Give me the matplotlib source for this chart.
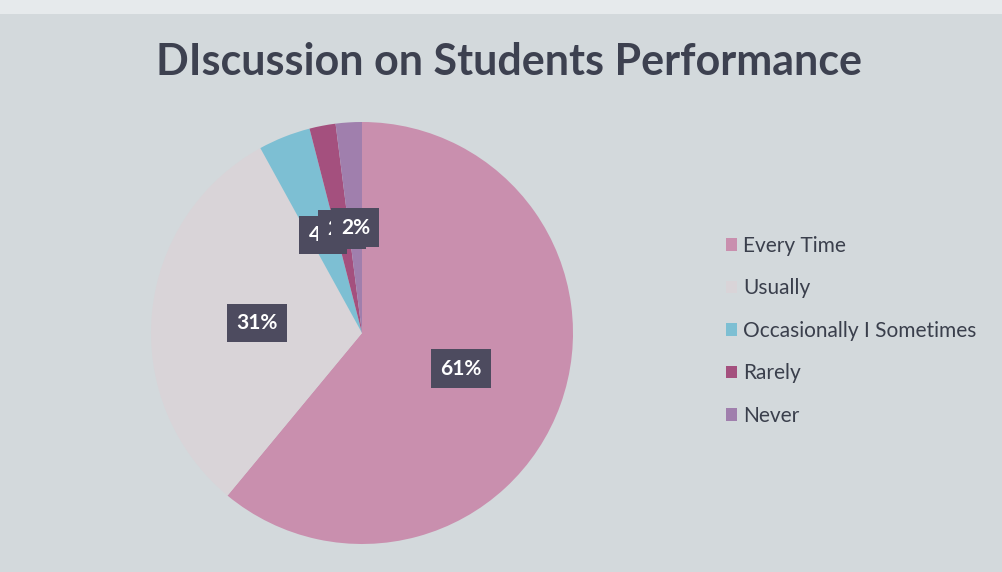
import matplotlib.pyplot as plt
from matplotlib.patches import Rectangle

# data
categories = ["Every Time", "Usually", "Occasionally I Sometimes", "Rarely", "Never"]
shares = [61, 31, 4, 2, 2]
colors = ["#c98fae", "#d9d4d8", "#7dbfd3", "#a4507e", "#a07fad"]

fig = plt.figure(figsize=(10.02, 5.72), dpi=100)
fig.patch.set_facecolor("#d3d9dc")
# lighter strip of the photo above the slide
fig.patches.append(Rectangle((0, 1 - 14 / 572), 1, 14 / 572, transform=fig.transFigure,
                             facecolor="#e6eaec", edgecolor="none", zorder=0))

fig.text(509 / 1002, 1 - 62 / 572, "DIscussion on Students Performance",
         ha="center", va="center", fontsize=31, fontweight="bold",
         family="Lato", color="#3d4150")

ax = fig.add_axes([151 / 1002, 28 / 572, 422 / 1002, 422 / 572])
wedges, texts, autotexts = ax.pie(
    shares, colors=colors, startangle=90, counterclock=False,
    autopct="%.0f%%", pctdistance=0.5,
    textprops=dict(color="white", fontsize=15, fontweight="bold", family="Lato"),
    wedgeprops=dict(linewidth=0))
for i, t in enumerate(autotexts):
    t.set_bbox(dict(boxstyle="square,pad=0.45", facecolor="#4d4b5f", edgecolor="none"))
    t.set_zorder(5 + i)
ax.set_xlim(-1, 1)
ax.set_ylim(-1, 1)
ax.set_aspect("equal")
ax.axis("off")

leg = fig.legend(wedges, categories, loc="upper left",
                 bbox_to_anchor=(707 / 1002, 1 - 217 / 572),
                 frameon=False, labelspacing=1.08,
                 handlelength=0.55, handleheight=0.55, handletextpad=0.3,
                 prop=dict(family="Lato", size=15))
for txt in leg.get_texts():
    txt.set_color("#3a3f4c")

fig.savefig("out.png", dpi=100, facecolor=fig.get_facecolor())
